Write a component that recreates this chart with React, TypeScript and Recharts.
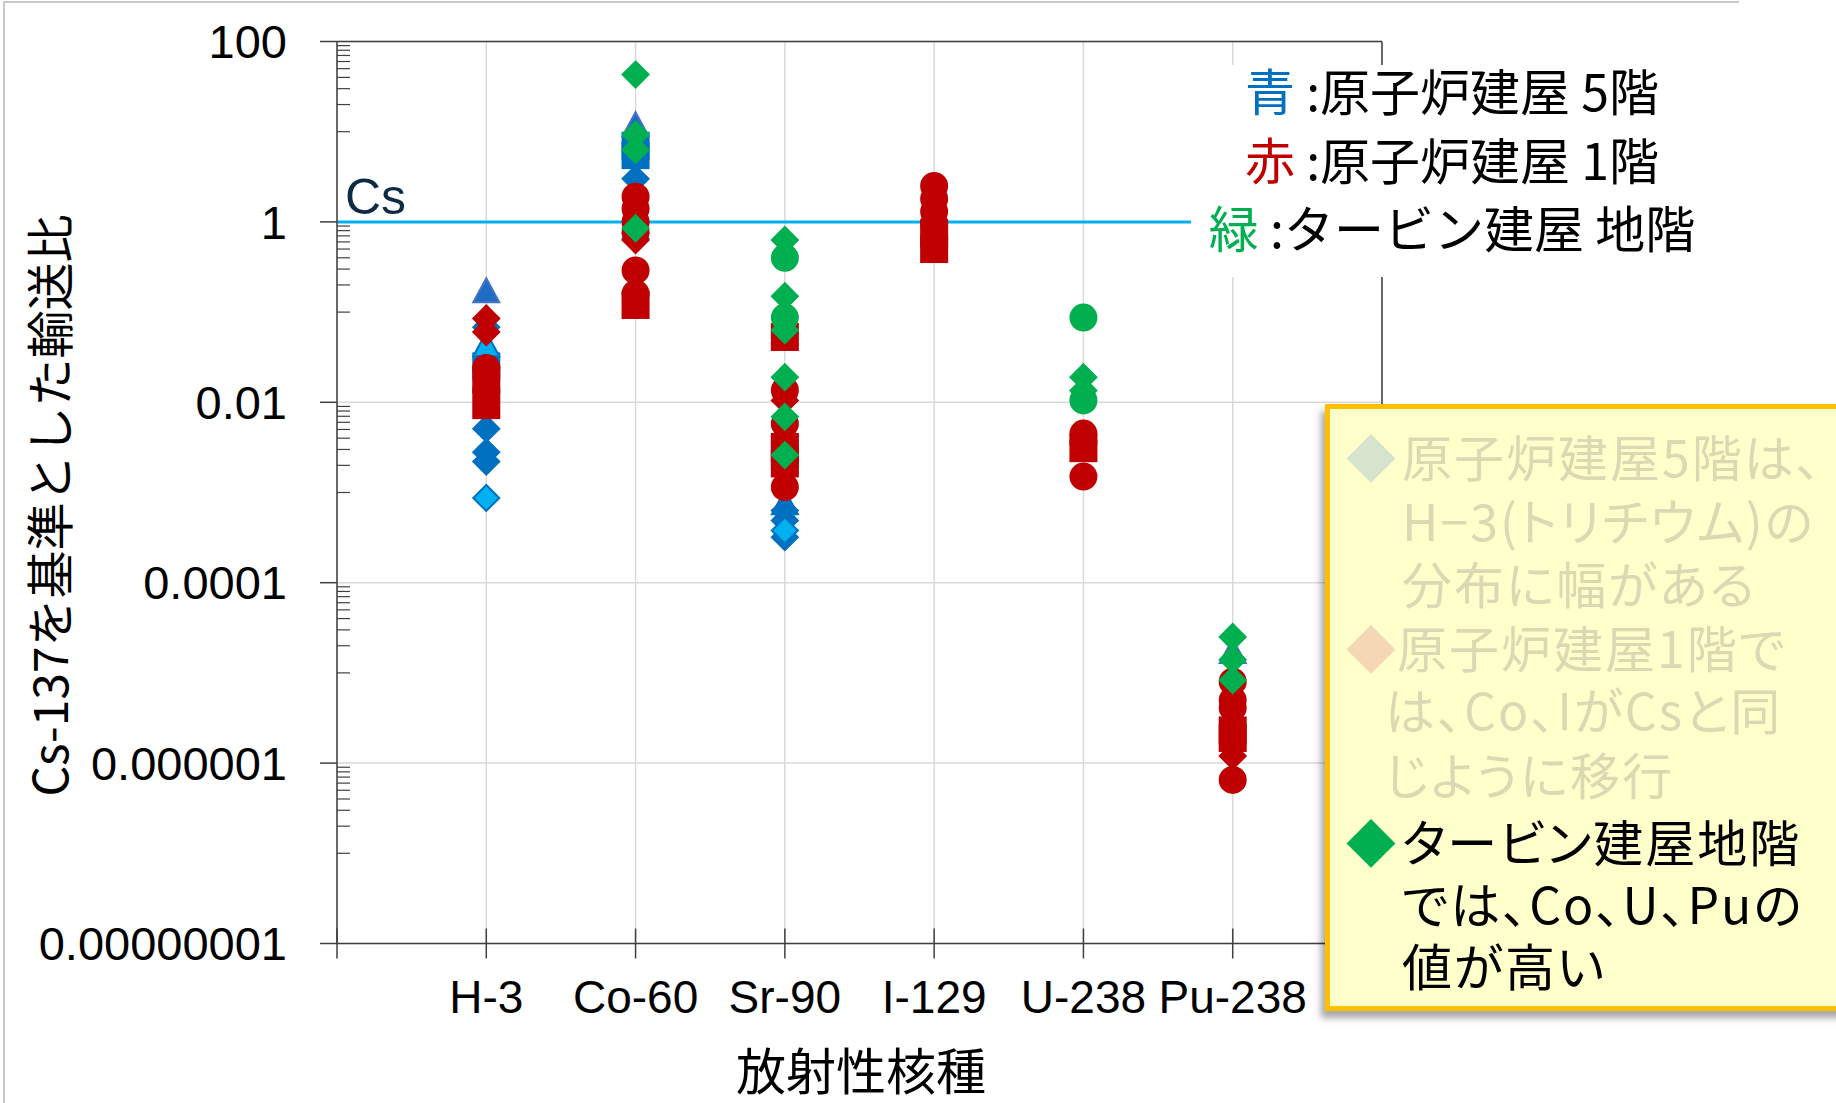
import React from 'react';
import { ScatterChart, Scatter, XAxis, YAxis, CartesianGrid, ReferenceLine } from 'recharts';

const nuclides = ['H-3', 'Co-60', 'Sr-90', 'I-129', 'U-238', 'Pu-238'];
const xTicks = [0, 1, 2, 3, 4, 5, 6, 7];
const yMajorTicks = [1e-8, 1e-6, 1e-4, 1e-2, 1, 100];
const yTickLabels = ['0.00000001', '0.000001', '0.0001', '0.01', '1', '100'];
// minor ticks: M/10 .. 9M/10 under each major tick
const yMinorTicks = yMajorTicks.slice(1).flatMap((m) => [1, 2, 3, 4, 5, 6, 7, 8, 9].map((n) => (m * n) / 10));
const yAllTicks = [...yMajorTicks, ...yMinorTicks].sort((a, b) => a - b);

// 原子炉建屋 5階 (blue)
const r5Square: [string, number][] = [['H-3', 0.025], ['Co-60', 7.0], ['Co-60', 5.5], ['Sr-90', 0.0027]];
const r5Triangle: [string, number][] = [['H-3', 0.17], ['Co-60', 11.8], ['Pu-238', 1.7e-5]];
const r5LightTriangle: [string, number][] = [['H-3', 0.043], ['Sr-90', 0.00076]];
const r5Diamond: [string, number][] = [
  ['H-3', 0.068], ['H-3', 0.0051], ['H-3', 0.0028], ['H-3', 0.0022],
  ['Co-60', 3.0], ['Co-60', 0.75], ['Co-60', 0.65],
  ['Sr-90', 0.00063], ['Sr-90', 0.00049], ['Sr-90', 0.00032],
];
const r5LightDiamond: [string, number][] = [['H-3', 0.00087], ['Sr-90', 0.00038]];

// 原子炉建屋 1階 (red)
const r1Square: [string, number][] = [
  ['H-3', 0.018], ['H-3', 0.0093],
  ['Co-60', 0.12],
  ['Sr-90', 0.053], ['Sr-90', 0.0032], ['Sr-90', 0.0021],
  ['I-129', 0.75], ['I-129', 0.5],
  ['U-238', 0.0031],
  ['Pu-238', 2.3e-6], ['Pu-238', 1.9e-6],
];
const r1Circle: [string, number][] = [
  ['H-3', 0.024], ['H-3', 0.014],
  ['Co-60', 1.9], ['Co-60', 1.4], ['Co-60', 1.0], ['Co-60', 0.77], ['Co-60', 0.29], ['Co-60', 0.16],
  ['Sr-90', 0.0136], ['Sr-90', 0.0058], ['Sr-90', 0.00115],
  ['I-129', 2.5], ['I-129', 1.8], ['I-129', 1.3], ['I-129', 0.95],
  ['U-238', 0.0045], ['U-238', 0.0036], ['U-238', 0.0015],
  ['Pu-238', 8e-6], ['Pu-238', 5e-6], ['Pu-238', 4.1e-6], ['Pu-238', 6.5e-7],
];
const r1Diamond: [string, number][] = [
  ['H-3', 0.085], ['H-3', 0.06],
  ['Co-60', 0.63],
  ['Sr-90', 0.0105], ['Sr-90', 0.0042],
  ['Pu-238', 1.2e-6],
];

// タービン建屋 地階 (green)
const tbCircle: [string, number][] = [['Sr-90', 0.4], ['Sr-90', 0.087], ['U-238', 0.087], ['U-238', 0.0105]];
const tbDiamond: [string, number][] = [
  ['Co-60', 43], ['Co-60', 9.3], ['Co-60', 6.3], ['Co-60', 0.85],
  ['Sr-90', 0.63], ['Sr-90', 0.15], ['Sr-90', 0.063], ['Sr-90', 0.019], ['Sr-90', 0.0069], ['Sr-90', 0.0026],
  ['U-238', 0.019], ['U-238', 0.0135],
  ['Pu-238', 2.5e-5], ['Pu-238', 1.4e-5], ['Pu-238', 8.3e-6],
];

const BLUE = '#0070C0';
const LIGHT_BLUE = '#00B0F0';
const RED = '#C00000';
const GREEN = '#00B050';
const AXIS = '#404040';
const GRID = '#D9D9D9';
const FADED = '#DCD9B2';

const LATIN = '"Liberation Sans", Arial, sans-serif';
const JP = '"Noto Sans CJK JP", "Noto Sans", sans-serif';

const Y_TICK_SIZE = 17;
const Y_TICK_MARGIN = 33;
const X_TICK_SIZE = 15;

type Kind = 'diamond' | 'circle' | 'square' | 'triangle';

const toPoints = (rows: [string, number][]) => rows.map(([n, v]) => ({ x: nuclides.indexOf(n) + 1, y: v }));

const Marker = ({ cx, cy, kind, fill, stroke }: any) => {
  if (cx == null || cy == null) return null;
  const common = { fill, stroke, strokeWidth: 2 };
  switch (kind as Kind) {
    case 'diamond':
      return <polygon points={`${cx},${cy - 13} ${cx + 13},${cy} ${cx},${cy + 13} ${cx - 13},${cy}`} {...common} />;
    case 'circle':
      return <circle cx={cx} cy={cy} r={13} {...common} />;
    case 'square':
      return <rect x={cx - 13} y={cy - 13} width={26} height={26} {...common} />;
    default:
      return <polygon points={`${cx},${cy - 13} ${cx + 13},${cy + 11} ${cx - 13},${cy + 11}`} {...common} />;
  }
};

const series: { rows: [string, number][]; kind: Kind; fill: string; stroke: string }[] = [
  { rows: r5Square, kind: 'square', fill: BLUE, stroke: BLUE },
  { rows: r5Triangle, kind: 'triangle', fill: '#1F6CC4', stroke: '#4472C4' },
  { rows: r5LightTriangle, kind: 'triangle', fill: LIGHT_BLUE, stroke: BLUE },
  { rows: r5Diamond, kind: 'diamond', fill: BLUE, stroke: BLUE },
  { rows: r5LightDiamond, kind: 'diamond', fill: LIGHT_BLUE, stroke: BLUE },
  { rows: r1Square, kind: 'square', fill: RED, stroke: RED },
  { rows: r1Circle, kind: 'circle', fill: RED, stroke: RED },
  { rows: r1Diamond, kind: 'diamond', fill: RED, stroke: RED },
  { rows: tbCircle, kind: 'circle', fill: GREEN, stroke: GREEN },
  { rows: tbDiamond, kind: 'diamond', fill: GREEN, stroke: GREEN },
];

// x ticks cross the axis; labels only under the nuclide positions
const NuclideTick = ({ x, y, payload }: any) => {
  const ay = y - X_TICK_SIZE;
  const name = nuclides[payload.value - 1];
  return (
    <g>
      <line x1={x} x2={x} y1={ay - X_TICK_SIZE} y2={ay + X_TICK_SIZE} stroke={AXIS} strokeWidth={1.5} />
      {name && (
        <text x={x} y={y + 54} textAnchor="middle" fontSize={46} fontFamily={LATIN} fill="#000">
          {name}
        </text>
      )}
    </g>
  );
};

const majorIndex = (v: number) => yMajorTicks.findIndex((t) => Math.abs(Math.log10(t) - Math.log10(v)) < 1e-6);

// major ticks outside with labels, minor ticks inside
const LogTick = ({ x, y, payload }: any) => {
  const ax = x + Y_TICK_SIZE + Y_TICK_MARGIN;
  const i = majorIndex(payload.value);
  if (i < 0) return <line x1={ax} x2={ax + 13} y1={y} y2={y} stroke={AXIS} strokeWidth={1.2} />;
  return (
    <g>
      <line x1={ax - Y_TICK_SIZE} x2={ax} y1={y} y2={y} stroke={AXIS} strokeWidth={1.5} />
      <text x={x} y={y} dy="0.355em" textAnchor="end" fontSize={47} fontFamily={LATIN} fill="#000">
        {yTickLabels[i]}
      </text>
    </g>
  );
};

const Line = ({ cy, left, color, bullet, bulletWidth = 56, children }: any) => (
  <div
    style={{
      position: 'absolute', left, top: cy - 30, height: 60, lineHeight: '60px',
      fontSize: 50, letterSpacing: 2, color, whiteSpace: 'nowrap', fontFeatureSettings: '"palt"',
    }}
  >
    {bullet && <span style={{ display: 'inline-block', width: bulletWidth, color: bullet, letterSpacing: 0 }}>◆</span>}
    {children}
  </div>
);

export default function App() {
  return (
    <div
      style={{
        position: 'absolute', left: 0, top: 0, width: 1836, height: 1103,
        overflow: 'hidden', background: '#fff', fontFamily: JP,
      }}
    >
      <div style={{ position: 'absolute', left: 3, top: 1, width: 1734, height: 1110, borderLeft: '2px solid #C8C8C8', borderTop: '2px solid #C8C8C8' }} />
      <ScatterChart width={1836} height={1103} margin={{ top: 41.5, right: 454, bottom: 59.5, left: 20 }}>
        <CartesianGrid stroke={GRID} strokeWidth={1.5} horizontalValues={yMajorTicks} verticalValues={xTicks} />
        <XAxis
          type="number" dataKey="x" domain={[0, 7]} ticks={xTicks} interval={0}
          allowDataOverflow height={100} tickSize={X_TICK_SIZE} tickMargin={0} tick={<NuclideTick />}
          axisLine={{ stroke: AXIS, strokeWidth: 1.5 }} tickLine={false}
        />
        <YAxis
          type="number" dataKey="y" scale="log" domain={[1e-8, 100]} ticks={yAllTicks} interval={0}
          allowDataOverflow width={317} tickSize={Y_TICK_SIZE} tickMargin={Y_TICK_MARGIN}
          tick={<LogTick />} tickLine={false}
          axisLine={{ stroke: AXIS, strokeWidth: 1.5 }}
          label={{
            content: ({ viewBox }: any) => {
              const lx = viewBox.x + 27;
              const ly = viewBox.y + viewBox.height / 2 + 13;
              return (
                <text x={lx} y={ly} transform={`rotate(-90 ${lx} ${ly})`} textAnchor="middle"
                  dominantBaseline="central" fontSize={48} fontFamily={JP} fill="#000">
                  Cs-137を基準とした輸送比
                </text>
              );
            },
          }}
        />
        {series.map((s, i) => (
          <Scatter
            key={i}
            data={toPoints(s.rows)}
            isAnimationActive={false}
            shape={(p: any) => <Marker cx={p.cx} cy={p.cy} kind={s.kind} fill={s.fill} stroke={s.stroke} />}
          />
        ))}
        <ReferenceLine y={100} stroke={AXIS} strokeWidth={1.5} />
        <ReferenceLine x={7} stroke={AXIS} strokeWidth={1.5} />
        <ReferenceLine
          y={1} stroke={LIGHT_BLUE} strokeWidth={3}
          label={{ value: 'Cs', position: 'insideBottomLeft', offset: 8, fontSize: 50, fontFamily: LATIN, fill: '#0D2B45' }}
        />
        <text x={861} y={1068} textAnchor="middle" dominantBaseline="central" fontSize={50} fontFamily={JP} fill="#000">
          放射性核種
        </text>
      </ScatterChart>

      {/* legend text box */}
      <div style={{ position: 'absolute', left: 1191, top: 65, width: 522, height: 212, background: '#fff' }} />
      <div style={{ position: 'absolute', left: 1191, top: 55, width: 522, textAlign: 'center', fontSize: 50, lineHeight: '68.5px', color: '#000', whiteSpace: 'nowrap' }}>
        <div><span style={{ color: BLUE }}>青</span> :原子炉建屋 5階</div>
        <div><span style={{ color: RED }}>赤</span> :原子炉建屋 1階</div>
        <div><span style={{ color: GREEN }}>緑</span> :タービン建屋 地階</div>
      </div>

      {/* callout */}
      <div
        style={{
          position: 'absolute', left: 1325, top: 404, width: 560, height: 607, boxSizing: 'border-box',
          background: '#FFFFCC', border: '5px solid #FFC000', boxShadow: '-4px 7px 7px rgba(0,0,0,0.35)',
        }}
      />
      <Line cy={455} left={1346} color={FADED} bullet="#D6E4CD">原子炉建屋5階は、</Line>
      <Line cy={519} left={1402} color={FADED}>H−3(トリチウム)の</Line>
      <Line cy={582} left={1402} color={FADED}>分布に幅がある</Line>
      <Line cy={646} left={1346} color={FADED} bullet="#F5D7B6" bulletWidth={51}>原子炉建屋1階で</Line>
      <Line cy={708} left={1385} color={FADED}>は、Co、IがCsと同</Line>
      <Line cy={773} left={1385} color={FADED}>じように移行</Line>
      <Line cy={840} left={1346} color="#000" bullet={GREEN}>タービン建屋地階</Line>
      <Line cy={902} left={1402} color="#000">では、Co、U、Puの</Line>
      <Line cy={964} left={1402} color="#000">値が高い</Line>
    </div>
  );
}
